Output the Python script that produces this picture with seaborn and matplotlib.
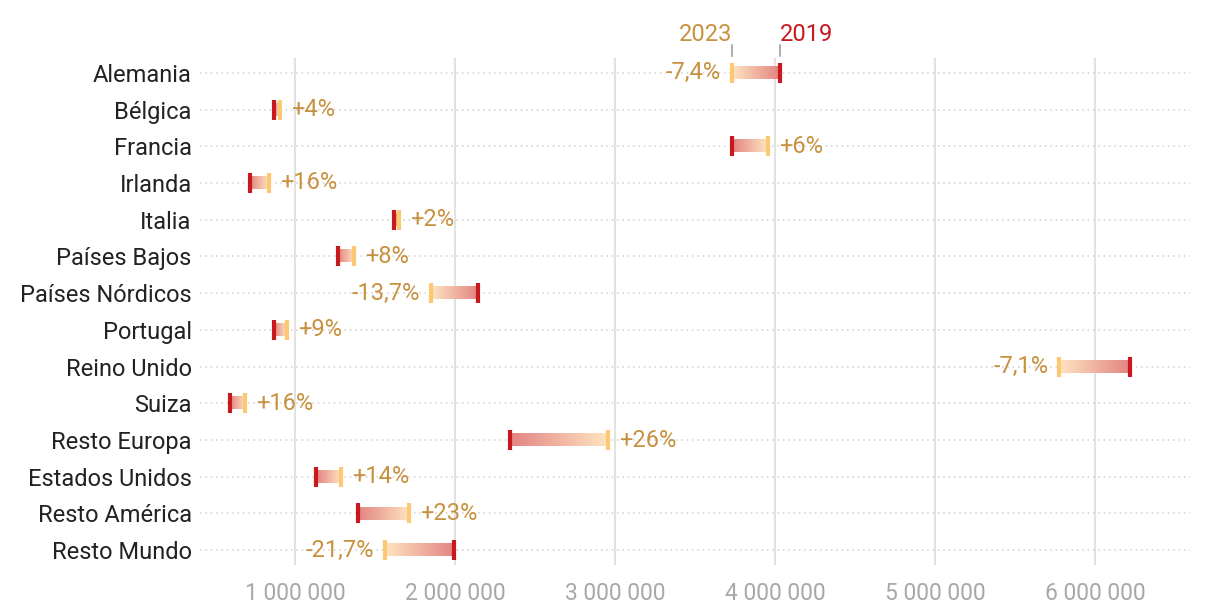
import numpy as np
import pandas as pd
import matplotlib.pyplot as plt
import seaborn as sns
from matplotlib.colors import LinearSegmentedColormap
from matplotlib.ticker import FuncFormatter

# Datos
paises = ["Alemania", "Bélgica", "Francia", "Irlanda", "Italia", "Países Bajos",
          "Países Nórdicos", "Portugal", "Reino Unido", "Suiza", "Resto Europa",
          "Estados Unidos", "Resto América", "Resto Mundo"]
v2019 = [4031000, 869000, 3731000, 719000, 1619000, 1269000, 2144000,
         869000, 6219000, 594000, 2344000, 1131000, 1394000, 1994000]
v2023 = [3731000, 904000, 3955000, 834000, 1651000, 1370000, 1850000,
         947000, 5777000, 689000, 2953000, 1289000, 1714000, 1561000]
etiquetas = ["-7,4%", "+4%", "+6%", "+16%", "+2%", "+8%", "-13,7%",
             "+9%", "-7,1%", "+16%", "+26%", "+14%", "+23%", "-21,7%"]

ROJO = "#c8191e"
AMARILLO = "#fdc872"
OCRE = "#c8913f"

sns.set_style("white")
plt.rcParams["font.family"] = ["Roboto", "DejaVu Sans"]

datos = pd.DataFrame({"pais": paises, "v2019": v2019, "v2023": v2023,
                      "pos": np.arange(len(paises))})

fig = plt.figure(figsize=(12.2, 6.12), dpi=100)
ax = fig.add_axes([0.164, 0.077, 0.811, 0.828])

# Rejilla
for x in range(1000000, 7000000, 1000000):
    ax.axvline(x, color="#e2e2e2", lw=1.5, zorder=0)
for y in datos["pos"]:
    ax.axhline(y, color="#cfcfcf", lw=1.1, ls=(0, (1, 2.5)), zorder=0)

# Barras con degradado (rojo 2019 -> amarillo 2023)
cmap = LinearSegmentedColormap.from_list("grad", ["#e38383", "#fee5c0"])
grad = np.linspace(0, 1, 256).reshape(1, -1)
alto = 0.33
for _, fila in datos.iterrows():
    ax.imshow(grad, cmap=cmap, aspect="auto", zorder=2,
              extent=[fila["v2019"], fila["v2023"], fila["pos"] + alto / 2, fila["pos"] - alto / 2])

# Extremos
sns.scatterplot(data=datos, x="v2019", y="pos", marker="|", s=210, linewidth=3,
                color=ROJO, ax=ax, zorder=3)
sns.scatterplot(data=datos, x="v2023", y="pos", marker="|", s=210, linewidth=3,
                color=AMARILLO, ax=ax, zorder=3)

# Etiquetas de variación
for _, fila in datos.iterrows():
    txt = etiquetas[fila["pos"]]
    if fila["v2023"] >= fila["v2019"]:
        ax.annotate(txt, (fila["v2023"], fila["pos"]), xytext=(8, 0), textcoords="offset points",
                    ha="left", va="center", color=OCRE, fontsize=17)
    else:
        ax.annotate(txt, (fila["v2023"], fila["pos"]), xytext=(-8, 0), textcoords="offset points",
                    ha="right", va="center", color=OCRE, fontsize=17)

# Leyenda encima de Alemania
ax.plot([v2023[0], v2023[0]], [-0.45, -0.75], color="#b0b0b0", lw=1.5, clip_on=False)
ax.plot([v2019[0], v2019[0]], [-0.45, -0.75], color="#b0b0b0", lw=1.5, clip_on=False)
ax.text(v2023[0], -1.05, "2023", color=OCRE, fontsize=17, ha="right", va="center")
ax.text(v2019[0], -1.05, "2019", color=ROJO, fontsize=17, ha="left", va="center")

ax.set_xlim(406000, 6590000)
ax.set_ylim(len(paises) - 0.6, -0.4)
ax.set_yticks(datos["pos"])
ax.set_yticklabels(paises)
ax.set_xticks(range(1000000, 7000000, 1000000))
ax.xaxis.set_major_formatter(FuncFormatter(lambda v, p: f"{int(v):,}".replace(",", " ")))
ax.tick_params(axis="x", colors="#a8a8a8", labelsize=16.5, length=0, pad=12)
ax.tick_params(axis="y", colors="#222222", labelsize=17, length=0, pad=6)
ax.set_xlabel("")
ax.set_ylabel("")
sns.despine(left=True, bottom=True)

plt.savefig("out.png", dpi=100)
plt.close()
